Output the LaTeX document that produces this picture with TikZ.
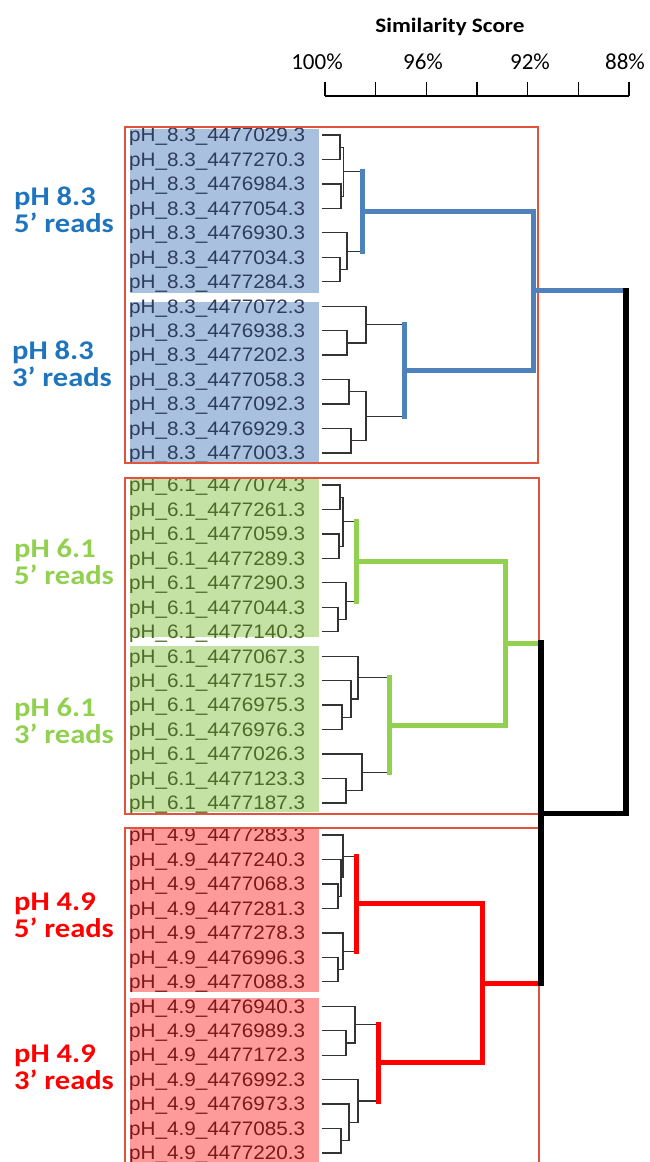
\documentclass[tikz,border=0pt]{standalone}
\usepackage{fontspec}
\usepackage{tikz}
\usetikzlibrary{calc}
\newfontfamily\calfont[FakeStretch=1.13]{Carlito}
\newfontfamily\axisfont{Carlito}
\newfontfamily\leaffont[FakeStretch=1.06]{Liberation Sans}
\definecolor{blueline}{HTML}{4F81BD}
\definecolor{bluefill}{HTML}{A9C0DF}
\definecolor{bluetext}{HTML}{2C3C5C}
\definecolor{bluelabel}{HTML}{1F74BE}
\definecolor{greenline}{HTML}{92D050}
\definecolor{greenfill}{HTML}{C3E2A3}
\definecolor{greentext}{HTML}{4F6A28}
\definecolor{redline}{HTML}{FF0000}
\definecolor{redfill}{HTML}{FF9A9A}
\definecolor{redtext}{HTML}{7B1818}
\definecolor{boxline}{HTML}{E2533D}
% clade: arm style, stem style, upper child, lower child, stem x, name
\def\clade[#1][#2](#3)(#4)(#5:#6){%
  \coordinate (#6u) at (#3 -| #5,0);
  \coordinate (#6l) at (#4 -| #5,0);
  \coordinate (#6) at ($(#6u)!0.5!(#6l)$);
  \draw[#1] (#3) -- (#6u);
  \draw[#1] (#4) -- (#6l);
  \draw[#2] (#6u) -- (#6l);}

\begin{document}
\begin{tikzpicture}[x=1pt,y=-1pt,
    thinlink/.style={line width=1.3pt,draw=black!80,line cap=rect},
    bluelink/.style={line width=5pt,draw=blueline,line cap=rect},
    greenlink/.style={line width=5pt,draw=greenline,line cap=rect},
    redlink/.style={line width=5pt,draw=redline,line cap=rect},
    rootlink/.style={line width=5.5pt,draw=black,line cap=rect},
    leaf/.style={font=\leaffont\fontsize{19.5}{21}\selectfont,anchor=base west,inner sep=0pt},
    grouplabel/.style={font=\calfont\bfseries\fontsize{27}{27}\selectfont,align=left,anchor=west,inner sep=0pt},
    box/.style={draw=boxline,line width=1.2pt}]
		%%%%% START %%%%%
		\useasboundingbox (0,0) rectangle (649,1162);
		
		% axis
		\node[font=\calfont\bfseries\fontsize{20.5}{22}\selectfont] (title) at (450,27) {Similarity Score};
		\foreach \xx/\pc [count=\i] in {317/100,423/96,530/92,625/88}
			\node[font=\axisfont\fontsize{23}{25}\selectfont] (pc\i) at (\xx,62) {\pc\%};
		\draw[line width=1.2pt] (325,96) -- (629,96);
		\foreach \k in {0,...,6}
			\draw[line width=1.2pt] ({325+\k*50.67},82) -- ({325+\k*50.67},96);
		
		% shaded label blocks
		\fill[bluefill] (129.5,129) rectangle (319,293);
		\fill[bluefill] (129.5,302) rectangle (319,463);
		\fill[greenfill] (129.5,479) rectangle (319,637);
		\fill[greenfill] (129.5,646) rectangle (319,812);
		\fill[redfill] (129.5,829) rectangle (319,992);
		\fill[redfill] (129.5,998) rectangle (319,1162);
		
		% leaves
		\foreach \id [count=\i] in {4477029,4477270,4476984,4477054,4476930,4477034,4477284,4477072,4476938,4477202,4477058,4477092,4476929,4477003}{
			\node[leaf,text=bluetext] (bt\i) at (129,{135+(\i-1)*24.46+6.8}) {pH\_8.3\_\id.3};
			\coordinate (b\i) at (323,{135+(\i-1)*24.46});
		}
		\foreach \id [count=\i] in {4477074,4477261,4477059,4477289,4477290,4477044,4477140,4477067,4477157,4476975,4476976,4477026,4477123,4477187}{
			\node[leaf,text=greentext] (gt\i) at (129,{485+(\i-1)*24.46+6.8}) {pH\_6.1\_\id.3};
			\coordinate (g\i) at (323,{485+(\i-1)*24.46});
		}
		\foreach \id [count=\i] in {4477283,4477240,4477068,4477281,4477278,4476996,4477088,4476940,4476989,4477172,4476992,4476973,4477085,4477220}{
			\node[leaf,text=redtext] (rt\i) at (129,{835+(\i-1)*24.46+6.8}) {pH\_4.9\_\id.3};
			\coordinate (r\i) at (323,{835+(\i-1)*24.46});
		}
		
		% frames
		\draw[box] (125,127) rectangle (538,463);
		\draw[box] (125,478) rectangle (539,814);
		\draw[box] (125,1175) |- (539,828) -- (539,1175);
		
		% pH 8.3
		\clade[thinlink][thinlink](b1)(b2)(340:bc1)
		\clade[thinlink][thinlink](b3)(b4)(341:bc2)
		\clade[thinlink][thinlink](bc1)(bc2)(343.5:bc3)
		\clade[thinlink][thinlink](b6)(b7)(340:bc4)
		\clade[thinlink][thinlink](b5)(bc4)(347:bc5)
		\clade[thinlink][bluelink](bc3)(bc5)(362:bc6)
		\clade[thinlink][thinlink](b9)(b10)(347:bc7)
		\clade[thinlink][thinlink](b8)(bc7)(366:bc8)
		\clade[thinlink][thinlink](b11)(b12)(349:bc9)
		\clade[thinlink][thinlink](b13)(b14)(351:bc10)
		\clade[thinlink][thinlink](bc9)(bc10)(366:bc11)
		\clade[thinlink][bluelink](bc8)(bc11)(404:bc12)
		\clade[bluelink][bluelink](bc6)(bc12)(533:bc13)
		
		% pH 6.1
		\clade[thinlink][thinlink](g1)(g2)(340:gc1)
		\clade[thinlink][thinlink](g3)(g4)(339:gc2)
		\clade[thinlink][thinlink](gc1)(gc2)(343:gc3)
		\clade[thinlink][thinlink](g6)(g7)(338:gc4)
		\clade[thinlink][thinlink](g5)(gc4)(346:gc5)
		\clade[thinlink][greenlink](gc3)(gc5)(356:gc6)
		\clade[thinlink][thinlink](g10)(g11)(342:gc7)
		\clade[thinlink][thinlink](g9)(gc7)(351:gc8)
		\clade[thinlink][thinlink](g8)(gc8)(358:gc9)
		\clade[thinlink][thinlink](g13)(g14)(346:gc10)
		\clade[thinlink][thinlink](g12)(gc10)(362:gc11)
		\clade[thinlink][greenlink](gc9)(gc11)(389:gc12)
		\clade[greenlink][greenlink](gc6)(gc12)(505:gc13)
		
		% pH 4.9
		\clade[thinlink][thinlink](r3)(r4)(338:rc1)
		\clade[thinlink][thinlink](r2)(rc1)(341:rc2)
		\clade[thinlink][thinlink](r1)(rc2)(343:rc3)
		\clade[thinlink][thinlink](r6)(r7)(338:rc4)
		\clade[thinlink][thinlink](r5)(rc4)(343:rc5)
		\clade[thinlink][redlink](rc3)(rc5)(356:rc6)
		\clade[thinlink][thinlink](r9)(r10)(346:rc7)
		\clade[thinlink][thinlink](r8)(rc7)(355:rc8)
		\clade[thinlink][thinlink](r13)(r14)(341:rc9)
		\clade[thinlink][thinlink](r12)(rc9)(349:rc10)
		\clade[thinlink][thinlink](r11)(rc10)(358:rc11)
		\clade[thinlink][redlink](rc8)(rc11)(378:rc12)
		\clade[redlink][redlink](rc6)(rc12)(482:rc13)
		
		% top joins
		\coordinate (gj) at (gc13 -| 541,0);
		\coordinate (rj) at (rc13 -| 541,0);
		\coordinate (grc) at ($(gj)!0.5!(rj)$);
		\coordinate (bj) at (bc13 -| 626,0);
		\draw[greenlink] (gc13) -- (gj);
		\draw[redlink] (rc13) -- (rj);
		\draw[rootlink] (gj) -- (rj);
		\draw[bluelink] (bc13) -- (bj);
		\draw[rootlink] (grc) -| (bj);
		
		% group labels
		\node[grouplabel,text=bluelabel] (lb1) at (14,210) {pH 8.3\\5’ reads};
		\node[grouplabel,text=bluelabel] (lb2) at (12,364) {pH 8.3\\3’ reads};
		\node[grouplabel,text=greenline] (lg1) at (14,562) {pH 6.1\\5’ reads};
		\node[grouplabel,text=greenline] (lg2) at (14,721) {pH 6.1\\3’ reads};
		\node[grouplabel,text=redline] (lr1) at (14,915) {pH 4.9\\5’ reads};
		\node[grouplabel,text=redline] (lr2) at (14,1067) {pH 4.9\\3’ reads};
		%%%%% END %%%%%
\end{tikzpicture}
\end{document}
